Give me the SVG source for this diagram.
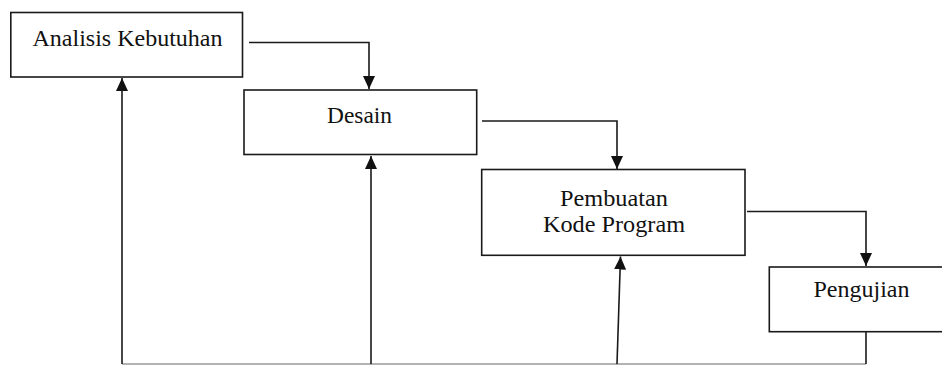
<svg xmlns="http://www.w3.org/2000/svg" width="942" height="365" viewBox="0 0 942 365">
  <style>
    .box { fill: #ffffff; stroke: #1a1a1a; stroke-width: 1.6; }
    .lbl { font-family: 'Liberation Serif', 'Times New Roman', Times, serif; font-size: 23px; fill: #111; text-anchor: middle; }
    .conn { fill: none; stroke: #1a1a1a; stroke-width: 1.6; }
    .base { fill: none; stroke: #9a9a9a; stroke-width: 1.6; }
  </style>
  <defs>
    <marker id="arrow" markerUnits="userSpaceOnUse" markerWidth="13" markerHeight="12" refX="13" refY="6" orient="auto">
      <path d="M0,0 L13,6 L0,12 z" fill="#111"/>
    </marker>
  </defs>
  <rect width="942" height="365" fill="#ffffff"/>

  <g id="connectors">
    <path class="conn" d="M249,42.5 H369 V89" marker-end="url(#arrow)"/>
    <path class="conn" d="M482,121 H617 V169" marker-end="url(#arrow)"/>
    <path class="conn" d="M747,211.5 H866 V266" marker-end="url(#arrow)"/>
    <path class="base" d="M122,364 H866"/>
    <path class="conn" d="M866,332 V364"/>
    <path class="conn" d="M122,364 V78" marker-end="url(#arrow)"/>
    <path class="conn" d="M371,364 V156" marker-end="url(#arrow)"/>
    <path class="conn" d="M617,364 L620.5,256.5" marker-end="url(#arrow)"/>
  </g>

  <g id="node-analisis">
    <rect class="box" x="10.8" y="12.5" width="231.7" height="64.5"/>
    <text class="lbl" font-family="Liberation Serif" x="127.5" y="45.5" textLength="190" lengthAdjust="spacingAndGlyphs">Analisis Kebutuhan</text>
  </g>
  <g id="node-desain">
    <rect class="box" x="244" y="90" width="232.7" height="64.5"/>
    <text class="lbl" font-family="Liberation Serif" x="359.5" y="123" textLength="65" lengthAdjust="spacingAndGlyphs">Desain</text>
  </g>
  <g id="node-pembuatan">
    <rect class="box" x="481.7" y="169.5" width="263.3" height="85.8"/>
    <text class="lbl" font-family="Liberation Serif" x="614" y="206" textLength="108" lengthAdjust="spacingAndGlyphs">Pembuatan</text>
    <text class="lbl" font-family="Liberation Serif" x="614" y="232" textLength="142" lengthAdjust="spacingAndGlyphs">Kode Program</text>
  </g>
  <g id="node-pengujian">
    <rect class="box" x="769.3" y="267" width="185" height="64.7"/>
    <text class="lbl" font-family="Liberation Serif" x="861.5" y="296.5" textLength="96" lengthAdjust="spacingAndGlyphs">Pengujian</text>
  </g>
</svg>
